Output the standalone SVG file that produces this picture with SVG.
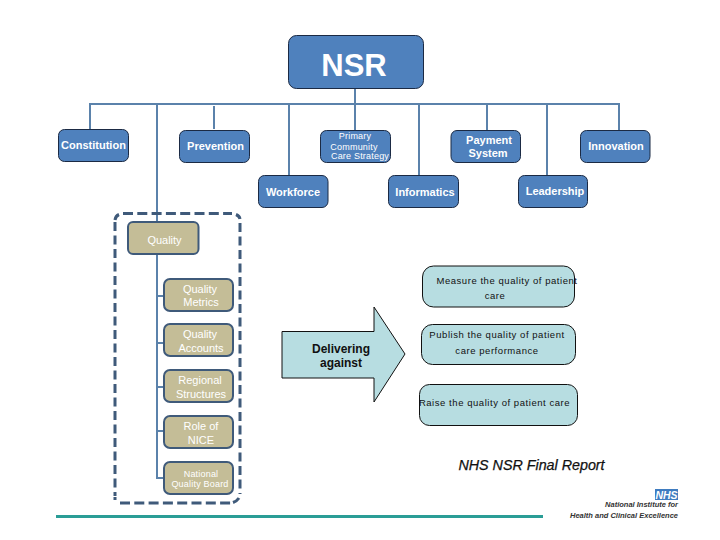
<svg xmlns="http://www.w3.org/2000/svg" width="720" height="540" viewBox="0 0 720 540">
<style>
text{font-family:"Liberation Sans",Arial,sans-serif;text-anchor:middle}
.b{fill:#4f81bd;stroke:#1b2a44;stroke-width:1}
.t{fill:#c4bd97;stroke:#3f5a7a;stroke-width:2}
.c{fill:#b7dde1;stroke:#111;stroke-width:1}
.w{fill:#fff;font-size:11px;font-weight:bold}
.s{fill:#fff;font-size:9px;letter-spacing:.2px}
.w2{fill:#fff;font-size:11px}
.k{fill:#111;font-size:9.5px;letter-spacing:.55px}
.l{fill:none;stroke:#5b82ab;stroke-width:2}
.f{fill:none;stroke:#3f5a7a;stroke-width:3}
.e{font-size:7.5px;font-weight:bold;font-style:italic;fill:#333;text-anchor:end}
</style>
<g id="connectors">
<path class="l" d="M90 129V104H619V130M157 104V478H164M157 296H164M157 343H164M157 387H164M157 431H164M214 106V129M289 104V175M355 88V130M419 104V175M487 104V130M547 104V175"/>
</g>
<g id="group-frame">
<path class="f" stroke-dasharray="10 4.300" d="M123 213.500H232"/>
<path class="f" stroke-dasharray="10 4.300" d="M120 503H231"/>
<path class="f" stroke-dasharray="9 4.500" d="M115 222V496"/>
<path class="f" stroke-dasharray="9 4.500" d="M240 223V494"/>
<path class="f" d="M115 220Q115.500 216 119 214.500M236 214.500Q239.500 216 240 219M115 497V500M233 502.500Q237 501 239 498"/>
</g>
<g id="nsr"><rect class="b" x="288.500" y="35.500" width="135" height="53" rx="8"/><text x="354" y="76" font-size="31" font-weight="bold" fill="#fff">NSR</text></g>
<g id="constitution"><rect class="b" x="58.500" y="129.500" width="70" height="32" rx="6"/><text class="w" x="93.500" y="149">Constitution</text></g>
<g id="prevention"><rect class="b" x="179.500" y="130.500" width="70" height="32" rx="6"/><text class="w" x="215.500" y="150">Prevention</text></g>
<g id="primary"><rect class="b" x="320.500" y="130.500" width="70" height="32" rx="6"/><text class="s" x="355" y="139">Primary</text><text class="s" x="354" y="150">Community</text><text class="s" x="360" y="159">Care Strategy</text></g>
<g id="payment"><rect class="b" x="451" y="130.500" width="69.500" height="32" rx="6"/><text class="w" x="489" y="144">Payment</text><text class="w" x="488" y="157">System</text></g>
<g id="innovation"><rect class="b" x="580.500" y="130.500" width="69.500" height="32" rx="6"/><text class="w" x="616" y="150">Innovation</text></g>
<g id="workforce"><rect class="b" x="258.500" y="175.500" width="69.500" height="32" rx="6"/><text class="w" x="293" y="196">Workforce</text></g>
<g id="informatics"><rect class="b" x="388.500" y="175.500" width="70" height="32" rx="6"/><text class="w" x="425" y="196">Informatics</text></g>
<g id="leadership"><rect class="b" x="518.500" y="175.500" width="69" height="32" rx="6"/><text class="w" x="555" y="195">Leadership</text></g>
<g id="quality"><rect class="t" x="128" y="222" width="70.500" height="32" rx="5"/><text class="w2" x="164.500" y="244">Quality</text></g>
<g id="quality-metrics"><rect class="t" x="164" y="279" width="69" height="32" rx="6"/><text class="w2" x="200" y="293">Quality</text><text class="w2" x="201" y="306">Metrics</text></g>
<g id="quality-accounts"><rect class="t" x="164" y="324" width="69" height="32" rx="6"/><text class="w2" x="200" y="338">Quality</text><text class="w2" x="201" y="352">Accounts</text></g>
<g id="regional"><rect class="t" x="164" y="370" width="69" height="32" rx="6"/><text class="w2" x="200" y="384">Regional</text><text class="w2" x="201" y="398">Structures</text></g>
<g id="nice"><rect class="t" x="164" y="416" width="69" height="32" rx="6"/><text class="w2" x="201" y="430">Role of</text><text class="w2" x="201" y="444">NICE</text></g>
<g id="board"><rect class="t" x="164" y="462" width="69" height="32" rx="6"/><text class="s" x="201" y="477">National</text><text class="s" x="200" y="487">Quality Board</text></g>
<g id="delivering"><path class="c" d="M282 331.500H374V307L405 354 374 402V378H282Z"/><text x="341" y="353" font-size="12" font-weight="bold" fill="#111">Delivering</text><text x="341" y="367" font-size="12" font-weight="bold" fill="#111">against</text></g>
<g id="measure"><rect class="c" x="422.500" y="266" width="152" height="41" rx="11"/><text class="k" x="507" y="284">Measure the quality of patient</text><text class="k" x="495" y="299">care</text></g>
<g id="publish"><rect class="c" x="421.500" y="324.500" width="154" height="40" rx="11"/><text class="k" x="497" y="338">Publish the quality of patient</text><text class="k" x="497" y="354">care performance</text></g>
<g id="raise"><rect class="c" x="419.500" y="384.500" width="158" height="41" rx="10"/><text class="k" x="494.500" y="406">Raise the quality of patient care</text></g>
<g id="footer">
<text x="531.500" y="470" font-size="14.300" font-style="italic" fill="#111" stroke="#111" stroke-width=".25">NHS NSR Final Report</text>
<path d="M56 516.500H543" stroke="#2a9d96" stroke-width="3" fill="none"/>
<rect x="655" y="489" width="23" height="11" fill="#3f7cc0"/><text x="666.500" y="499" font-size="10.500" font-weight="bold" font-style="italic" fill="#fff">NHS</text>
<text class="e" x="678" y="507">National Institute for</text>
<text class="e" x="678" y="518">Health and Clinical Excellence</text>
</g>
</svg>
